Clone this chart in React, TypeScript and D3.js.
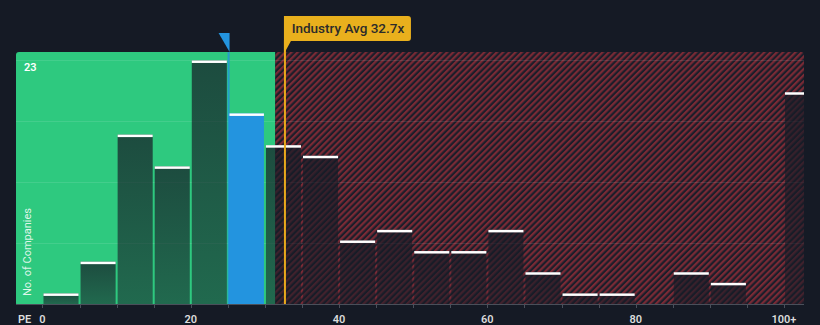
import React from "react";
import * as d3 from "d3";

const binStarts = [0, 5, 10, 15, 20, 25, 30, 35, 40, 45, 50, 55, 60, 65, 70, 75, 80, 85, 90, 95, 100];
const counts = [1, 4, 16, 13, 23, 18, 15, 14, 6, 7, 5, 5, 7, 3, 1, 1, 0, 3, 2, 0, 20];
const xTickValues = [0, 20, 40, 60, 80, 100];
const xTickLabels = ["0", "20", "40", "60", "80", "100+"];
const companyValue = 25.1;
const industryAvg = 32.7;
const fairLimit = 31.4;
const yMaxLabel = 23;

const W = 820;
const H = 325;
const left = 16;
const right = 804;
const top = 52;
const bottom = 304;

export default function App() {
  const x = d3.scaleLinear().domain([-3.57, 102.7]).range([left, right]);
  const y = d3.scaleLinear().domain([0, 23.8]).range([bottom, top]);
  const binW = 5;
  const edges = d3.range(0, 105, 5);
  const gridVals = [1, 2, 3, 4].map((k) => (yMaxLabel * k) / 4);
  const xa = x(industryAvg);
  const xc = x(companyValue);
  const xf = x(fairLimit);

  return (
    <div style={{ position: "absolute", left: 0, top: 0, width: W, height: H, background: "#151a25" }}>
      <svg width={W} height={H} style={{ display: "block", fontFamily: "Roboto, 'Noto Sans', sans-serif" }}>
        <defs>
          <pattern id="hatch" patternUnits="userSpaceOnUse" width="4.4" height="4.4" patternTransform="rotate(45)">
            <rect width="4.4" height="4.4" fill="#1b1e2a" />
            <rect width="2.2" height="4.4" fill="#7a2a35" />
          </pattern>
          <linearGradient id="barGrad" x1="0" y1="0" x2="0" y2="1">
            <stop offset="0" stopColor="#161b26" stopOpacity="0.72" />
            <stop offset="1" stopColor="#161b26" stopOpacity="0.55" />
          </linearGradient>
          <clipPath id="plotClip">
            <rect x={left} y={top} width={right - left} height={bottom - top + 2} rx={3} ry={3} />
          </clipPath>
        </defs>
        <rect width={W} height={H} fill="#151a25" />
        <g clipPath="url(#plotClip)">
          <rect x={left} y={top} width={xf - left} height={bottom - top} fill="#2ec97f" />
          <rect x={xf} y={top} width={right - xf} height={bottom - top} fill="url(#hatch)" />
          {gridVals.map((v, i) => (
            <line key={i} x1={left} x2={right} y1={Math.round(y(v)) + 0.5} y2={Math.round(y(v)) + 0.5} stroke="#ffffff" strokeOpacity={0.1} />
          ))}
          {binStarts.map((b, i) => {
            const c = counts[i];
            if (!c) return null;
            const x0 = x(b) + 1;
            const x1 = x(b + binW) - 1;
            const yt = y(c);
            const isCompany = companyValue >= b && companyValue < b + binW;
            return (
              <g key={b}>
                <rect x={x0} y={yt} width={x1 - x0} height={bottom - yt} fill={isCompany ? "#2394df" : "url(#barGrad)"} />
                <rect x={x0} y={yt} width={x1 - x0} height={2.5} fill="#ffffff" />
              </g>
            );
          })}
        </g>
        {/* company marker */}
        <line x1={xc} x2={xc} y1={top} y2={bottom} stroke="#2394df" strokeWidth={2} strokeOpacity={0.8} />
        <path d={`M${xc - 10},33 L${xc + 1},33 L${xc + 1},52 Z`} fill="#2394df" />
        {/* industry avg */}
        <line x1={xa} x2={xa} y1={40} y2={bottom} stroke="#e9a91c" strokeWidth={2} />
        <path d={`M${xa - 1},16 L${xa + 123},16 Q${xa + 126},16 ${xa + 126},19 L${xa + 126},38 Q${xa + 126},41 ${xa + 123},41 L${xa + 6},41 L${xa},52 L${xa - 1},52 Z`} fill="#e9b01d" />
        <text x={xa + 63} y={33} textAnchor="middle" fontSize={13.5} fill="#2b2b2b" fontWeight={500}>
          Industry Avg {industryAvg}x
        </text>
        {/* y label */}
        <text x={24} y={71} fontSize={11} fontWeight={600} fill="#ffffff">{yMaxLabel}</text>
        <text transform={`translate(31,252) rotate(-90)`} textAnchor="middle" fontSize={11} fill="#ffffff" fillOpacity={0.85}>
          No. of Companies
        </text>
        {/* x axis */}
        <line x1={left} x2={right} y1={bottom + 0.5} y2={bottom + 0.5} stroke="#4a4f5a" strokeWidth={1} />
        {edges.map((e) => (
          <line key={e} x1={Math.round(x(e)) + 0.5} x2={Math.round(x(e)) + 0.5} y1={bottom} y2={bottom + 4} stroke="#4a4f5a" />
        ))}
        {xTickValues.map((v, i) => (
          <text key={v} x={x(v)} y={322.5} textAnchor="middle" fontSize={11} fontWeight={600} fill="#dcdcdc">
            {xTickLabels[i]}
          </text>
        ))}
        <text x={18} y={322.5} fontSize={11} fontWeight={600} fill="#dcdcdc">PE</text>
      </svg>
    </div>
  );
}
